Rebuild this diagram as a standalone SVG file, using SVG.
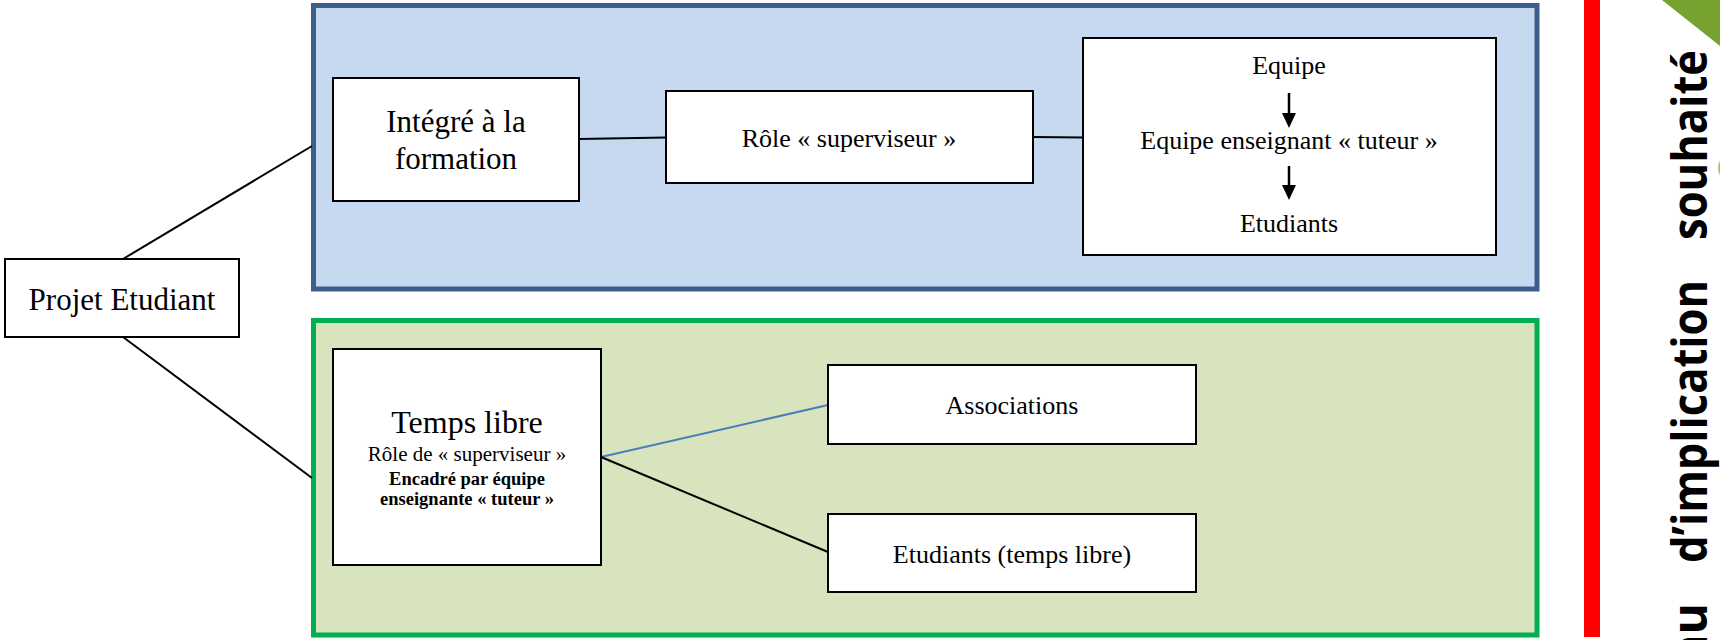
<svg xmlns="http://www.w3.org/2000/svg" width="1720" height="640" viewBox="0 0 1720 640">
  <style>
    .t { font-family: "Liberation Serif", "Times New Roman", serif; fill: #000; text-anchor: middle; }
    .box { fill: #fff; stroke: #000; stroke-width: 2; }
    .ln { stroke: #000; stroke-width: 2; fill: none; }
    .shaft { stroke: #000; stroke-width: 2.5; }
    .head { fill: #000; }
    .side { font-family: "Open Sans", "DejaVu Sans", sans-serif; font-weight: bold; font-size: 48px; fill: #000; }
  </style>
  <rect width="1720" height="640" fill="#fff"/>

  <!-- containers -->
  <g id="zone-formation">
    <rect x="313.5" y="5.5" width="1223.5" height="283.5" fill="#C6D9F1" stroke="#3B5E8C" stroke-width="5"/>
  </g>
  <g id="zone-libre">
    <rect x="313.5" y="320.5" width="1223.5" height="314.5" fill="#D7E4BD" stroke="#00B050" stroke-width="5"/>
  </g>

  <!-- connectors -->
  <g id="connectors">
    <line class="ln" x1="123" y1="259" x2="312" y2="146"/>
    <line class="ln" x1="123" y1="337" x2="312" y2="478"/>
    <line class="ln" x1="579" y1="139" x2="666" y2="137.5"/>
    <line class="ln" x1="1033" y1="137" x2="1083" y2="137.5"/>
    <line x1="601" y1="457" x2="828" y2="405" stroke="#4A7EBB" stroke-width="2"/>
    <line class="ln" x1="601" y1="457" x2="828" y2="552"/>
  </g>

  <g id="projet-etudiant">
    <rect class="box" x="5" y="259" width="234" height="78"/>
    <text class="t" x="122" y="310" font-size="31">Projet Etudiant</text>
  </g>

  <g id="integre">
    <rect class="box" x="333" y="78" width="246" height="123"/>
    <text class="t" x="456" y="132" font-size="31">Intégré à la</text>
    <text class="t" x="456" y="169" font-size="31">formation</text>
  </g>

  <g id="role-superviseur">
    <rect class="box" x="666" y="91" width="367" height="92"/>
    <text class="t" x="849" y="147" font-size="26">Rôle « superviseur »</text>
  </g>

  <g id="equipe">
    <rect class="box" x="1083" y="38" width="413" height="217"/>
    <text class="t" x="1289" y="74" font-size="26">Equipe</text>
    <line class="shaft" x1="1289" y1="93" x2="1289" y2="115"/>
    <path class="head" d="M1282,113 L1296,113 L1289,128 Z"/>
    <text class="t" x="1289" y="149" font-size="26">Equipe enseignant « tuteur »</text>
    <line class="shaft" x1="1289" y1="166" x2="1289" y2="187"/>
    <path class="head" d="M1282,185 L1296,185 L1289,200 Z"/>
    <text class="t" x="1289" y="232" font-size="26">Etudiants</text>
  </g>

  <g id="temps-libre">
    <rect class="box" x="333" y="349" width="268" height="216"/>
    <text class="t" x="467" y="433" font-size="32">Temps libre</text>
    <text class="t" x="467" y="461" font-size="21">Rôle de « superviseur »</text>
    <text class="t" x="467" y="485" font-size="18.5" font-weight="bold">Encadré par équipe</text>
    <text class="t" x="467" y="505" font-size="18.5" font-weight="bold">enseignante « tuteur »</text>
  </g>

  <g id="associations">
    <rect class="box" x="828" y="365" width="368" height="79"/>
    <text class="t" x="1012" y="414" font-size="26">Associations</text>
  </g>

  <g id="etudiants-libre">
    <rect class="box" x="828" y="514" width="368" height="78"/>
    <text class="t" x="1012" y="563" font-size="26">Etudiants (temps libre)</text>
  </g>

  <!-- side scale -->
  <rect x="1584" y="0" width="16" height="637" fill="#FF0000"/>
  <path d="M1662,0 L1720,0 L1720,46 Z" fill="#77A22F"/>
  <ellipse cx="1731" cy="168" rx="13" ry="14" fill="#A9C66B"/>
  <g id="niveau-label" transform="translate(1707,0) rotate(-90)">
    <text class="side" x="-666" y="0">nu</text>
    <text class="side" x="-563" y="0" textLength="283" lengthAdjust="spacingAndGlyphs">d’implication</text>
    <text class="side" x="-240" y="0" textLength="190" lengthAdjust="spacingAndGlyphs">souhaité</text>
  </g>
</svg>
